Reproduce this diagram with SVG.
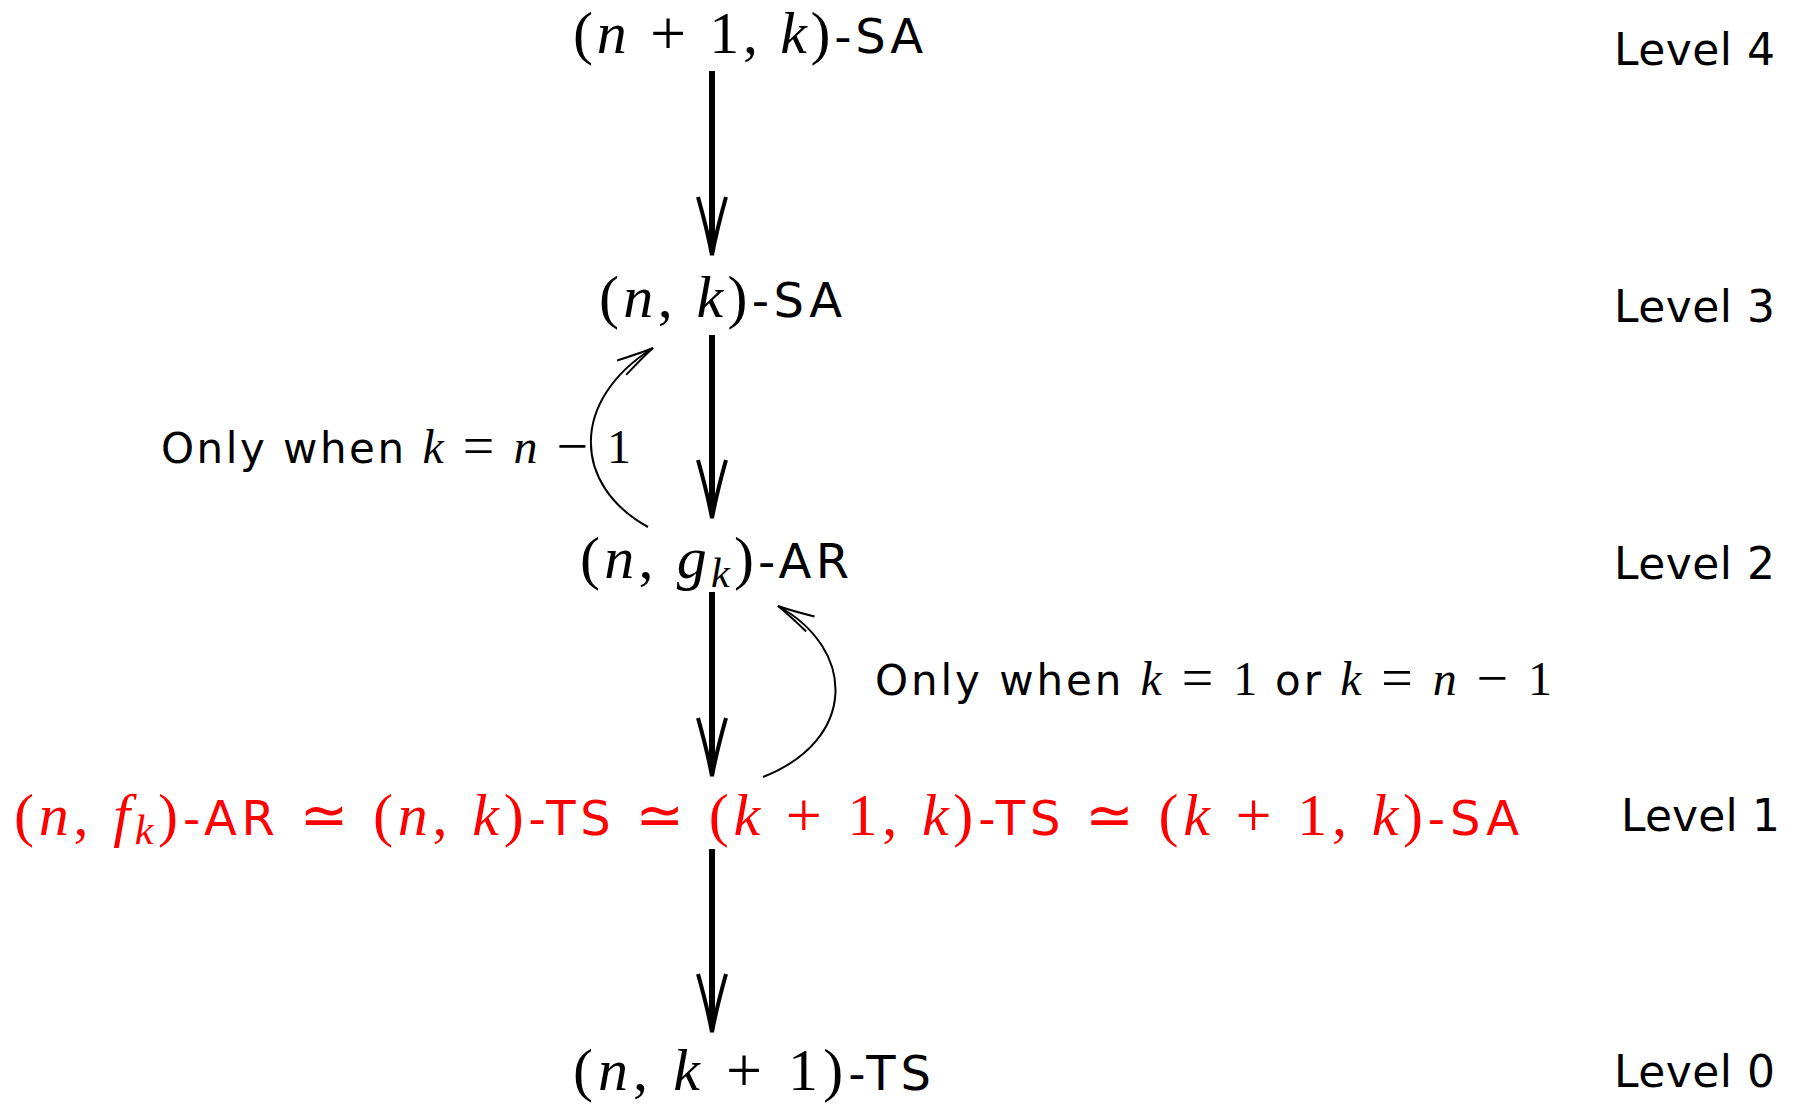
<svg xmlns="http://www.w3.org/2000/svg" width="1798" height="1106" viewBox="0 0 1798 1106">
<style>
text { font-family: "DejaVu Sans", "Liberation Sans", sans-serif; fill: #000; }
.s { font-family: "DejaVu Sans", "Liberation Sans", sans-serif; }
.m { font-family: "Liberation Serif", "DejaVu Serif", serif; }
.i { font-family: "Liberation Serif", "DejaVu Serif", serif; font-style: italic; }
.node { font-size: 48px; }
.node .m, .node .i { font-size: 60px; }
.node .op { font-size: 64px; }
.node .sub { font-size: 42px; }
.lvl { font-size: 44px; }
.ann { font-size: 42px; }
.ann .m, .ann .i { font-size: 48px; }
.ann .op { font-size: 56px; }
.red, .red tspan { fill: #ff0000; }
.node .sym { font-family: "DejaVu Sans", sans-serif; font-size: 58px; }
.shaft { stroke: #000; stroke-width: 6; fill: none; }
.thin { stroke: #000; stroke-width: 2; fill: none; }
</style>
<defs>
<marker id="bighead" markerUnits="userSpaceOnUse" orient="auto" overflow="visible" markerWidth="1" markerHeight="1" refX="0" refY="0">
<path d="M -50,-14 Q -18,-5 8,0 Q -18,5 -50,14" fill="none" stroke="#000" stroke-width="4" stroke-linejoin="miter"/>
</marker>
<marker id="thinhead" markerUnits="userSpaceOnUse" orient="auto" overflow="visible" markerWidth="1" markerHeight="1" refX="0" refY="0">
<path d="M -37,-8.5 Q -12,-2 0,0 Q -12,2 -37,8.5" fill="none" stroke="#000" stroke-width="2"/>
</marker>
</defs>

<g id="connectors">
<line class="shaft" x1="712" y1="71" x2="712" y2="247" marker-end="url(#bighead)"/>
<line class="shaft" x1="712" y1="335" x2="712" y2="510" marker-end="url(#bighead)"/>
<line class="shaft" x1="712" y1="592" x2="712" y2="768" marker-end="url(#bighead)"/>
<line class="shaft" x1="712" y1="849" x2="712" y2="1024" marker-end="url(#bighead)"/>
<path class="thin" d="M648,527 C572,485 570,400 653,348" marker-end="url(#thinhead)"/>
<path class="thin" d="M763,777 C857,740 857,650 778,606" marker-end="url(#thinhead)"/>
</g>

<g id="node-n1k-SA">
<text class="node" x="573" y="53" textLength="350" lengthAdjust="spacing"><tspan class="m">(</tspan><tspan class="i">n</tspan><tspan class="m op" dy="2"> + </tspan><tspan class="m" dy="-2">1, </tspan><tspan class="i">k</tspan><tspan class="m">)</tspan><tspan class="s">-SA</tspan></text>
</g>
<g id="node-nk-SA">
<text class="node" x="599" y="317" textLength="243" lengthAdjust="spacing"><tspan class="m">(</tspan><tspan class="i">n</tspan><tspan class="m">, </tspan><tspan class="i">k</tspan><tspan class="m">)</tspan><tspan class="s">-SA</tspan></text>
</g>
<g id="node-ngk-AR">
<text class="node" x="580" y="578" textLength="269" lengthAdjust="spacing"><tspan class="m">(</tspan><tspan class="i">n</tspan><tspan class="m">, </tspan><tspan class="i">g</tspan><tspan class="i sub" dy="9">k</tspan><tspan class="m" dy="-9">)</tspan><tspan class="s">-AR</tspan></text>
</g>
<g id="node-level1">
<text class="node red" x="14" y="835" textLength="1505" lengthAdjust="spacing"><tspan class="m">(</tspan><tspan class="i">n</tspan><tspan class="m">, </tspan><tspan class="i">f</tspan><tspan class="i sub" dy="9">k</tspan><tspan class="m" dy="-9">)</tspan><tspan class="s">-AR </tspan><tspan class="sym">≃</tspan><tspan class="m"> (</tspan><tspan class="i">n</tspan><tspan class="m">, </tspan><tspan class="i">k</tspan><tspan class="m">)</tspan><tspan class="s">-TS </tspan><tspan class="sym">≃</tspan><tspan class="m"> (</tspan><tspan class="i">k</tspan><tspan class="m op" dy="2"> + </tspan><tspan class="m" dy="-2">1, </tspan><tspan class="i">k</tspan><tspan class="m">)</tspan><tspan class="s">-TS </tspan><tspan class="sym">≃</tspan><tspan class="m"> (</tspan><tspan class="i">k</tspan><tspan class="m op" dy="2"> + </tspan><tspan class="m" dy="-2">1, </tspan><tspan class="i">k</tspan><tspan class="m">)</tspan><tspan class="s">-SA</tspan></text>
</g>
<g id="node-nk1-TS">
<text class="node" x="573" y="1090" textLength="358" lengthAdjust="spacing"><tspan class="m">(</tspan><tspan class="i">n</tspan><tspan class="m">, </tspan><tspan class="i">k</tspan><tspan class="m op" dy="2"> + </tspan><tspan class="m" dy="-2">1)</tspan><tspan class="s">-TS</tspan></text>
</g>

<g id="label-left">
<text class="ann" x="161" y="463" textLength="470" lengthAdjust="spacing"><tspan class="s">Only when </tspan><tspan class="i">k</tspan><tspan class="m op" dy="2"> = </tspan><tspan class="i" dy="-2">n</tspan><tspan class="m op" dy="2"> − </tspan><tspan class="m" dy="-2">1</tspan></text>
</g>
<g id="label-right">
<text class="ann" x="875" y="695" textLength="677" lengthAdjust="spacing"><tspan class="s">Only when </tspan><tspan class="i">k</tspan><tspan class="m op" dy="2"> = </tspan><tspan class="m" dy="-2">1 </tspan><tspan class="s">or </tspan><tspan class="i">k</tspan><tspan class="m op" dy="2"> = </tspan><tspan class="i" dy="-2">n</tspan><tspan class="m op" dy="2"> − </tspan><tspan class="m" dy="-2">1</tspan></text>
</g>

<g id="levels">
<text class="lvl" x="1614" y="65" textLength="161" lengthAdjust="spacing">Level 4</text>
<text class="lvl" x="1614" y="322" textLength="161" lengthAdjust="spacing">Level 3</text>
<text class="lvl" x="1614" y="579" textLength="161" lengthAdjust="spacing">Level 2</text>
<text class="lvl" x="1621" y="831" textLength="159" lengthAdjust="spacing">Level 1</text>
<text class="lvl" x="1614" y="1087" textLength="161" lengthAdjust="spacing">Level 0</text>
</g>
</svg>
